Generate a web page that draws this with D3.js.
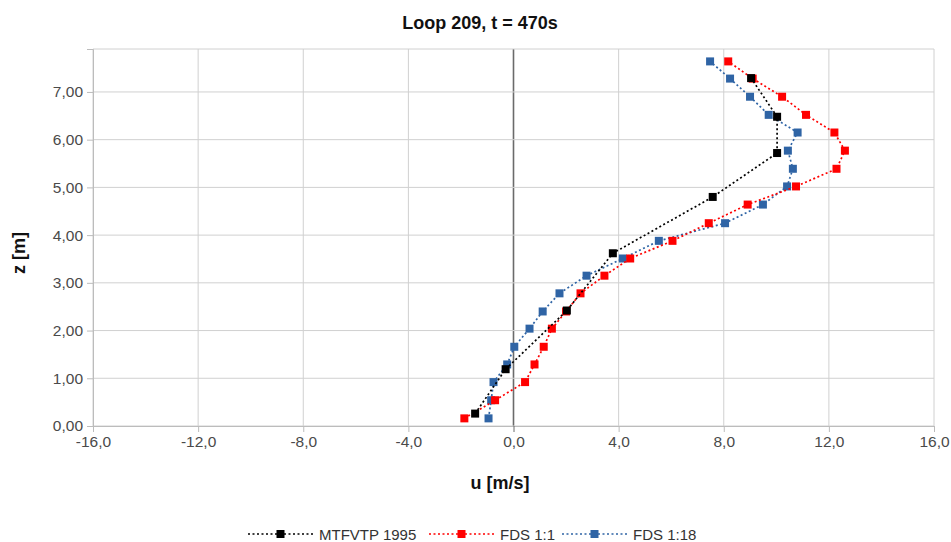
<!DOCTYPE html>
<html>
<head>
<meta charset="utf-8">
<script src="https://cdn.jsdelivr.net/npm/d3@7"></script>
<style>
  body { margin: 0; background: #fff; }
  text { font-family: "Liberation Sans", Arial, sans-serif; }
</style>
</head>
<body>
<div id="chart"></div>
<script>
// chart data
const seriesNames = ["MTFVTP 1995", "FDS 1:1", "FDS 1:18"];
const seriesColors = ["#000000", "#ff0000", "#2f64a5"];

const mtfZ = [0.26, 1.19, 2.42, 3.62, 4.80, 5.72, 6.48, 7.29];
const mtfU = [-1.46, -0.30, 2.03, 3.78, 7.58, 10.03, 10.03, 9.04];

const fds1Z = [0.16, 0.54, 0.92, 1.29, 1.66, 2.04, 2.40, 2.78, 3.15, 3.51, 3.88, 4.25, 4.64, 5.02, 5.39, 5.77, 6.15, 6.52, 6.90, 7.28, 7.64];
const fds1U = [-1.87, -0.70, 0.44, 0.80, 1.15, 1.46, 2.00, 2.55, 3.46, 4.44, 6.05, 7.43, 8.91, 10.75, 12.29, 12.61, 12.21, 11.13, 10.22, 9.10, 8.17];

const fds18Z = [0.16, 0.54, 0.92, 1.29, 1.66, 2.04, 2.40, 2.78, 3.15, 3.51, 3.88, 4.25, 4.64, 5.02, 5.39, 5.77, 6.15, 6.52, 6.90, 7.28, 7.64];
const fds18U = [-0.95, -0.85, -0.76, -0.24, 0.03, 0.61, 1.11, 1.75, 2.78, 4.16, 5.53, 8.05, 9.49, 10.41, 10.63, 10.44, 10.81, 9.71, 9.00, 8.24, 7.48];

const xTicks = [-16, -12, -8, -4, 0, 4, 8, 12, 16];
const yTicks = [0, 1, 2, 3, 4, 5, 6, 7];

const width = 951;
const height = 542;
const margin = {left: 93, right: 17, top: 49, bottom: 116};

const svg = d3.select("#chart")
              .append("svg")
              .attr("width", width)
              .attr("height", height);

const x = d3.scaleLinear()
            .domain([-16, 16])
            .range([margin.left, width - margin.right]);
const y = d3.scaleLinear()
            .domain([0, 7.9])
            .range([height - margin.bottom, margin.top]);

// comma decimals, plain hyphen for minus
const fmtX = d => d3.format(".1f")(d).replace(".", ",").replace("\u2212", "-");
const fmtY = d => d3.format(".2f")(d).replace(".", ",");

// grid
svg.append("g")
   .selectAll("line")
   .data(xTicks)
   .join("line")
   .attr("x1", d => x(d)).attr("x2", d => x(d))
   .attr("y1", y(0)).attr("y2", y(7.9))
   .attr("stroke", d => d == 0 ? "#6b6b6b" : "#d0d0d0")
   .attr("stroke-width", d => d == 0 ? 1.6 : 1);

svg.append("g")
   .selectAll("line")
   .data(yTicks.concat([7.9]))
   .join("line")
   .attr("x1", x(-16)).attr("x2", x(16))
   .attr("y1", d => y(d)).attr("y2", d => y(d))
   .attr("stroke", "#d0d0d0");

// axes
const xAxis = svg.append("g")
   .attr("transform", "translate(0," + y(0) + ")")
   .call(d3.axisBottom(x).tickValues(xTicks).tickSize(6).tickPadding(4).tickFormat(fmtX));
const yAxis = svg.append("g")
   .attr("transform", "translate(" + x(-16) + ",0)")
   .call(d3.axisLeft(y).tickValues(yTicks).tickSize(6).tickPadding(4).tickFormat(fmtY));

[xAxis, yAxis].forEach(a => {
  a.select(".domain").attr("stroke", "#bcbcbc");
  a.selectAll(".tick line").attr("stroke", "#bcbcbc");
  a.selectAll(".tick text")
   .attr("fill", "#4a4a4a")
   .style("font-size", "15.5px")
   .style("font-family", "'Liberation Sans', Arial, sans-serif");
});
xAxis.selectAll(".tick").filter(d => d == 0).select("line").attr("stroke", "#6b6b6b");

// titles
svg.append("text")
   .attr("x", 480).attr("y", 29)
   .attr("text-anchor", "middle")
   .style("font-size", "18px").style("font-weight", "bold")
   .attr("fill", "#111")
   .text("Loop 209, t = 470s");

svg.append("text")
   .attr("x", 500).attr("y", 489)
   .attr("text-anchor", "middle")
   .style("font-size", "18px").style("font-weight", "bold")
   .attr("fill", "#111")
   .text("u [m/s]");

svg.append("text")
   .attr("transform", "translate(25,253) rotate(-90)")
   .attr("text-anchor", "middle")
   .style("font-size", "18px").style("font-weight", "bold")
   .attr("fill", "#111")
   .text("z [m]");

// series, drawn blue first so black sits on top
const series = [
  {name: seriesNames[2], color: seriesColors[2], u: fds18U, z: fds18Z},
  {name: seriesNames[1], color: seriesColors[1], u: fds1U, z: fds1Z},
  {name: seriesNames[0], color: seriesColors[0], u: mtfU, z: mtfZ}
];

const line = d3.line()
               .x(d => x(d[0]))
               .y(d => y(d[1]));

const ms = 8;

series.forEach(s => {
  const pts = s.u.map((u, i) => [u, s.z[i]]);
  const g = svg.append("g");
  g.append("path")
   .datum(pts)
   .attr("d", line)
   .attr("fill", "none")
   .attr("stroke", s.color)
   .attr("stroke-width", 1.7)
   .attr("stroke-dasharray", "2,2.5");
  g.selectAll("rect")
   .data(pts)
   .join("rect")
   .attr("x", d => x(d[0]) - ms / 2)
   .attr("y", d => y(d[1]) - ms / 2)
   .attr("width", ms)
   .attr("height", ms)
   .attr("fill", s.color);
});

// legend
const legendItems = [
  {name: seriesNames[0], color: seriesColors[0], x0: 248},
  {name: seriesNames[1], color: seriesColors[1], x0: 429},
  {name: seriesNames[2], color: seriesColors[2], x0: 562}
];
const ly = 534;
const lg = svg.append("g");
legendItems.forEach(it => {
  lg.append("line")
    .attr("x1", it.x0).attr("x2", it.x0 + 65)
    .attr("y1", ly).attr("y2", ly)
    .attr("stroke", it.color)
    .attr("stroke-width", 1.7)
    .attr("stroke-dasharray", "2,2.5");
  lg.append("rect")
    .attr("x", it.x0 + 32.5 - ms / 2).attr("y", ly - ms / 2)
    .attr("width", ms).attr("height", ms)
    .attr("fill", it.color);
  lg.append("text")
    .attr("x", it.x0 + 71).attr("y", ly + 5.5)
    .style("font-size", "15px")
    .attr("fill", "#333")
    .text(it.name);
});
</script>
</body>
</html>
